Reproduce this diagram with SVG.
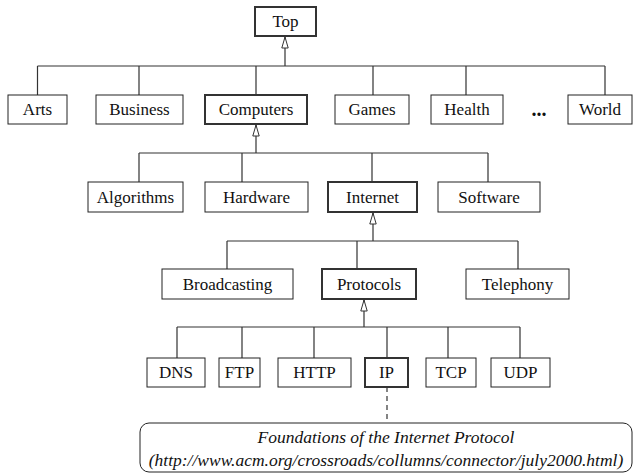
<svg xmlns="http://www.w3.org/2000/svg" width="634" height="474" viewBox="0 0 634 474">
<style>
.box{fill:#fff;stroke:#222;stroke-width:1}
.hl{fill:#fff;stroke:#333;stroke-width:2}
text{font-family:'Liberation Serif','Times New Roman','DejaVu Serif',serif;fill:#111;text-anchor:middle}
.t{font-size:17px}
.n{font-size:17.5px;font-style:italic}
.c{fill:none;stroke:#333;stroke-width:1.2}
</style>
<defs>
<marker id="tri" markerUnits="userSpaceOnUse" markerWidth="12" markerHeight="8" viewBox="0 0 12 8" refX="11.5" refY="4" orient="auto">
<path d="M0.5,0.8 L11.5,4 L0.5,7.2 z" fill="#fff" stroke="#333" stroke-width="1"/>
</marker>
</defs>
<rect width="634" height="474" fill="#fff"/>
<g id="connectors">
<path class="c" d="M285,66 V37" marker-end="url(#tri)"/>
<path class="c" d="M37.5,66 H605 M37.5,66 V95 M139,66 V95 M256,66 V95 M373,66 V95 M466,66 V95 M605,66 V95"/>
<path class="c" d="M256,153 V125" marker-end="url(#tri)"/>
<path class="c" d="M139,153 H488 M139,153 V182 M242,153 V182 M372,153 V182 M488,153 V182"/>
<path class="c" d="M373,241 V213" marker-end="url(#tri)"/>
<path class="c" d="M227,241 H518 M227,241 V269 M357,241 V269 M518,241 V269"/>
<path class="c" d="M364,327 V300" marker-end="url(#tri)"/>
<path class="c" d="M177,327 H520 M177,327 V358 M242,327 V358 M314,327 V358 M387,327 V358 M448,327 V358 M520,327 V358"/>
<path class="c" d="M387,387 V423" stroke-dasharray="5,4"/>
</g>
<g id="top"><rect class="hl" x="255" y="7" width="61" height="29"/><text class="t" x="285.5" y="27">Top</text></g>
<g id="arts"><rect class="box" x="8" y="95" width="59" height="29"/><text class="t" x="37.5" y="115">Arts</text></g>
<g id="business"><rect class="box" x="96" y="95" width="87" height="29"/><text class="t" x="139.5" y="115">Business</text></g>
<g id="computers"><rect class="hl" x="205" y="95" width="102" height="29"/><text class="t" x="256" y="115">Computers</text></g>
<g id="games"><rect class="box" x="335" y="95" width="74" height="29"/><text class="t" x="372" y="115">Games</text></g>
<g id="health"><rect class="box" x="431" y="95" width="72" height="29"/><text class="t" x="467" y="115">Health</text></g>
<g id="ellipsis"><text x="539" y="116" style="font-size:20px;font-weight:bold">...</text></g>
<g id="world"><rect class="box" x="568" y="95" width="64" height="29"/><text class="t" x="600" y="115">World</text></g>
<g id="algorithms"><rect class="box" x="88" y="182" width="95" height="30"/><text class="t" x="135.5" y="203">Algorithms</text></g>
<g id="hardware"><rect class="box" x="205" y="182" width="103" height="30"/><text class="t" x="256.5" y="203">Hardware</text></g>
<g id="internet"><rect class="hl" x="328" y="182" width="89" height="30"/><text class="t" x="372.5" y="203">Internet</text></g>
<g id="software"><rect class="box" x="438" y="182" width="102" height="30"/><text class="t" x="489" y="203">Software</text></g>
<g id="broadcasting"><rect class="box" x="162" y="269" width="131" height="30"/><text class="t" x="227.5" y="290">Broadcasting</text></g>
<g id="protocols"><rect class="hl" x="322" y="269" width="94" height="30"/><text class="t" x="369" y="290">Protocols</text></g>
<g id="telephony"><rect class="box" x="466" y="269" width="103" height="30"/><text class="t" x="517.5" y="290">Telephony</text></g>
<g id="dns"><rect class="box" x="147" y="358" width="58" height="29"/><text class="t" x="176" y="378">DNS</text></g>
<g id="ftp"><rect class="box" x="219" y="358" width="41" height="29"/><text class="t" x="239.5" y="378">FTP</text></g>
<g id="http"><rect class="box" x="278" y="358" width="73" height="29"/><text class="t" x="314.5" y="378">HTTP</text></g>
<g id="ip"><rect class="hl" x="365" y="358" width="43" height="29"/><text class="t" x="386.5" y="378">IP</text></g>
<g id="tcp"><rect class="box" x="426" y="358" width="50" height="29"/><text class="t" x="451" y="378">TCP</text></g>
<g id="udp"><rect class="box" x="491" y="358" width="59" height="29"/><text class="t" x="520.5" y="378">UDP</text></g>
<g id="note"><rect class="box" x="140" y="423" width="492" height="49" rx="9"/>
<text class="n" x="386" y="443">Foundations of the Internet Protocol</text>
<text class="n" x="386" y="466">(http://www.acm.org/crossroads/collumns/connector/july2000.html)</text></g>
</svg>
